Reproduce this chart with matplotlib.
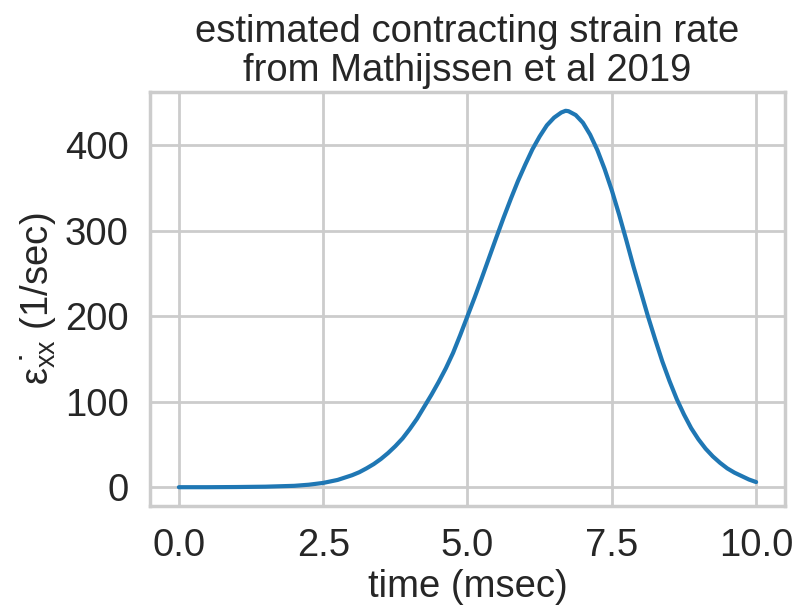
import matplotlib
matplotlib.use("Agg")
import matplotlib.pyplot as plt
import seaborn as sns

time_ms = [0.0, 0.5, 1.0, 1.5, 2.0, 2.25, 2.5, 2.75, 3.0, 3.125, 3.25, 3.375, 3.5,
           3.625, 3.75, 3.875, 4.0, 4.125, 4.25, 4.375, 4.5, 4.625, 4.75, 4.875,
           5.0, 5.125, 5.25, 5.375, 5.5, 5.625, 5.75, 5.875, 6.0, 6.125, 6.25,
           6.375, 6.5, 6.625, 6.7, 6.75, 6.875, 7.0, 7.125, 7.25, 7.375, 7.5,
           7.625, 7.75, 7.875, 8.0, 8.125, 8.25, 8.375, 8.5, 8.625, 8.75, 8.875,
           9.0, 9.125, 9.25, 9.375, 9.5, 9.625, 9.75, 9.875, 10.0]
strain_rate = [0, 0, 0.2, 0.6, 1.6, 2.9, 5, 8.5, 14, 17.5, 22, 27, 33,
               40, 48, 57, 68, 80, 94, 108, 123, 139, 157, 178,
               200, 222, 245, 268.5, 292, 315, 337, 358, 377, 395, 410,
               423, 432, 438, 440, 439.5, 435, 426, 412, 394, 372, 347,
               319, 289, 258, 229, 200, 173, 147, 124, 103, 85, 69,
               56, 45, 36, 28.5, 22, 17, 13, 9, 6]

sns.set_theme(style="whitegrid", context="poster")
plt.rcParams['font.family'] = ['Liberation Sans', 'DejaVu Sans']
plt.rcParams['mathtext.default'] = 'regular'

fig = plt.figure(figsize=(7.95, 6.09), dpi=100)
ax = fig.add_axes([0.1887, 0.1691, 0.7987, 0.6799])
ax.plot(time_ms, strain_rate, color="#1f77b4", lw=3)
ax.set_xticks([0.0, 2.5, 5.0, 7.5, 10.0])
ax.set_yticks([0, 100, 200, 300, 400])
ax.tick_params(labelsize=27.5)
ax.set_xlabel("time (msec)", fontsize=27.5)
ax.set_ylabel(r"$\dot{\varepsilon_{xx}}$ (1/sec)", fontsize=27.5)
ax.set_title("estimated contracting strain rate\nfrom Mathijssen et al 2019",
             fontsize=27.5, linespacing=1.09, pad=8)
fig.savefig("out.png", dpi=100)
